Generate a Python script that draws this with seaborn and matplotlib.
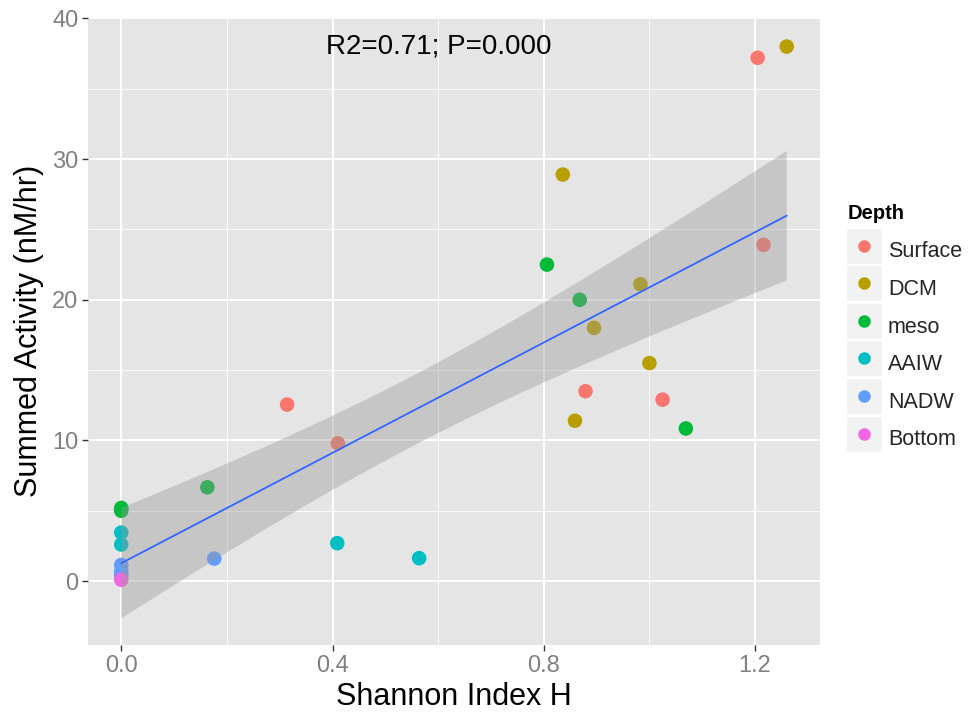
import numpy as np
import pandas as pd
import matplotlib
matplotlib.use("Agg")
import matplotlib.pyplot as plt
from matplotlib.ticker import MultipleLocator
from matplotlib.patches import Rectangle
import seaborn as sns

# ---- data ----
depth_levels = ["Surface", "DCM", "meso", "AAIW", "NADW", "Bottom"]
palette = ["#F8766D", "#B79F00", "#00BA38", "#00BFC4", "#619CFF", "#F564E3"]

surface_x = [1.205, 1.216, 0.314, 0.410, 0.879, 1.025]
surface_y = [37.2, 23.9, 12.55, 9.8, 13.5, 12.9]
dcm_x = [1.260, 0.836, 0.983, 0.895, 1.000, 0.859]
dcm_y = [38.0, 28.9, 21.1, 18.0, 15.5, 11.4]
meso_x = [0.806, 0.868, 1.069, 0.163, 0.0, 0.0]
meso_y = [22.5, 20.0, 10.85, 6.67, 5.2, 5.0]
aaiw_x = [0.0, 0.0, 0.409, 0.564]
aaiw_y = [3.45, 2.6, 2.7, 1.63]
nadw_x = [0.176, 0.0, 0.0, 0.0]
nadw_y = [1.6, 1.15, 0.7, 0.4]
bottom_x = [0.0]
bottom_y = [0.1]

xs = [surface_x, dcm_x, meso_x, aaiw_x, nadw_x, bottom_x]
ys = [surface_y, dcm_y, meso_y, aaiw_y, nadw_y, bottom_y]
df = pd.DataFrame({
    "Shannon": np.concatenate(xs),
    "Activity": np.concatenate(ys),
    "Depth": np.concatenate([[d] * len(x) for d, x in zip(depth_levels, xs)]),
})
df["Depth"] = pd.Categorical(df["Depth"], categories=depth_levels, ordered=True)

annotation = "R2=0.71; P=0.000"
legend_title = "Depth"

# ---- style ----
sns.set_theme(style="darkgrid")
plt.rcParams["font.family"] = ["Liberation Sans", "DejaVu Sans"]

fig = plt.figure(figsize=(9.74, 7.13), dpi=100)
W, H = 974, 713
ax = fig.add_axes([88 / W, 1 - 645 / H, (820 - 88) / W, (645 - 17) / H])
ax.set_facecolor("#E5E5E5")

sns.scatterplot(data=df, x="Shannon", y="Activity", hue="Depth",
                hue_order=depth_levels, palette=palette, s=110,
                edgecolor="none", linewidth=0, legend=False, ax=ax, zorder=2)

# linear fit with analytic 95% confidence band (as geom_smooth(method="lm"))
x = df["Shannon"].to_numpy()
y = df["Activity"].to_numpy()
n = len(x)
b, a = np.polyfit(x, y, 1)
resid = y - (a + b * x)
s = np.sqrt(np.sum(resid ** 2) / (n - 2))
sxx = np.sum((x - x.mean()) ** 2)
try:
    from scipy import stats
    tq = stats.t.ppf(0.975, n - 2)
except Exception:
    tq = 2.0595
grid = np.linspace(x.min(), x.max(), 100)
fit = a + b * grid
se = s * np.sqrt(1 / n + (grid - x.mean()) ** 2 / sxx)
ax.fill_between(grid, fit - tq * se, fit + tq * se, facecolor="#999999",
                alpha=0.4, edgecolor="none", zorder=3)

sns.regplot(data=df, x="Shannon", y="Activity", scatter=False, ax=ax,
            ci=None, line_kws={"color": "#3366FF", "lw": 1.3, "zorder": 4})

ax.set_xlim(-0.063, 1.323)
ax.set_ylim(-4.54, 40.1)
ax.xaxis.set_minor_locator(MultipleLocator(0.2))
ax.yaxis.set_major_locator(MultipleLocator(10))
ax.yaxis.set_minor_locator(MultipleLocator(5))
ax.set_xticks([0.0, 0.4, 0.8, 1.2])
ax.set_xticklabels(["0.0", "0.4", "0.8", "1.2"])
ax.grid(which="major", color="white", lw=1.4)
ax.grid(which="minor", color="white", lw=0.6)
ax.set_axisbelow(True)
for sp in ax.spines.values():
    sp.set_visible(False)
ax.tick_params(axis="both", which="major", length=4, width=1, color="#333333",
               labelsize=17, labelcolor="#808080", pad=3, bottom=True, left=True)
ax.tick_params(axis="both", which="minor", length=0)

ax.set_xlabel("Shannon Index H", fontsize=22, color="black", labelpad=4)
ax.set_ylabel("Summed Activity (nM/hr)", fontsize=22, color="black", labelpad=6)

ax.text(0.602, 38.0, annotation, fontsize=20, color="black",
        ha="center", va="center", zorder=6)

# ---- legend ----
fig.text(848 / W, 1 - 214 / H, legend_title, fontsize=14.5, fontweight="bold",
         color="black", ha="left", va="center")
handles = [plt.Line2D([], [], marker="o", ls="none", markersize=9,
                      markerfacecolor=c, markeredgecolor="none") for c in palette]
leg = fig.legend(handles, depth_levels, loc="upper left",
                 bbox_to_anchor=(846 / W, 1 - 234 / H), frameon=False,
                 fontsize=15.5,
                 handlelength=1.65, handleheight=2.0, labelspacing=0.2,
                 handletextpad=0.3, borderpad=0, borderaxespad=0)
fig.canvas.draw()
for h in leg.legend_handles:
    bb = h.get_window_extent()
    cx, cy = (bb.x0 + bb.x1) / 2, (bb.y0 + bb.y1) / 2
    rect = Rectangle(((cx - 18) / W, (cy - 18) / H), 36 / W, 36 / H,
                     transform=fig.transFigure, facecolor="#F2F2F2",
                     edgecolor="white", lw=1, zorder=-1)
    fig.add_artist(rect)

fig.savefig("out.png", dpi=100, facecolor="white")
